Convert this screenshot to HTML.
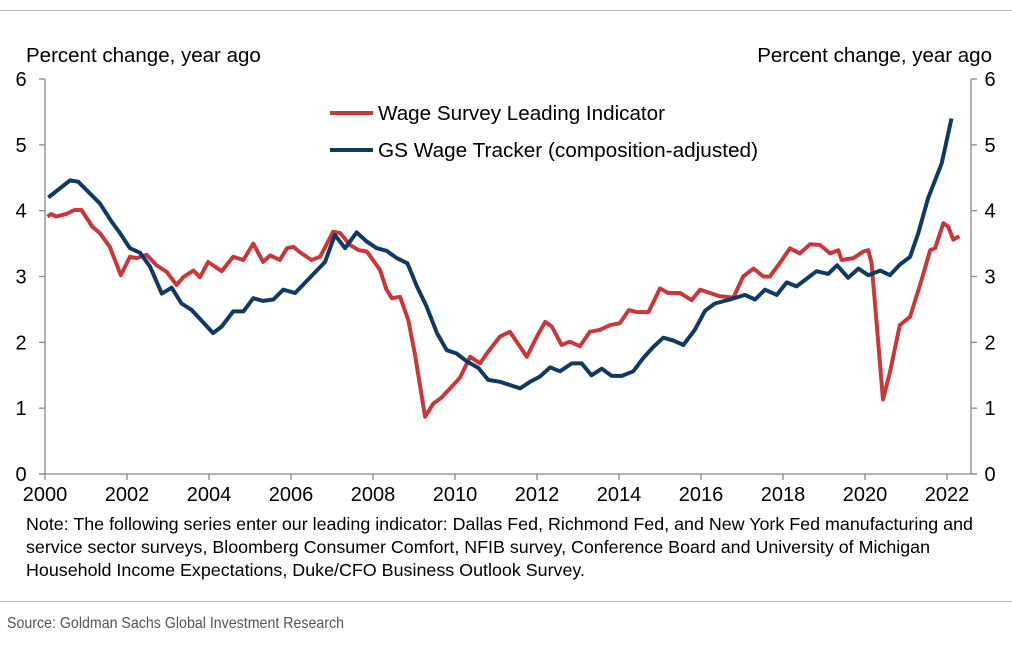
<!DOCTYPE html>
<html><head><meta charset="utf-8"><style>
body{margin:0;background:#fff;}
svg{display:block;font-family:"Liberation Sans",Arial,sans-serif;}
</style></head><body>
<svg id="chart" width="1012" height="645" viewBox="0 0 1012 645" xmlns="http://www.w3.org/2000/svg">
<line x1="0" y1="10.5" x2="1012" y2="10.5" stroke="#bbb"/>
<text x="26" y="62" font-size="20.5" fill="#000">Percent change, year ago</text>
<text x="992" y="62" font-size="20.5" fill="#000" text-anchor="end">Percent change, year ago</text>
<g id="axes"></g>
<g id="series"></g>
<g>
<line x1="330" y1="113" x2="373" y2="113" stroke="#c8383a" stroke-width="4"/>
<text x="378" y="120" font-size="20" textLength="287" lengthAdjust="spacingAndGlyphs">Wage Survey Leading Indicator</text>
<line x1="330" y1="150" x2="373" y2="150" stroke="#0e3a64" stroke-width="4"/>
<text x="378" y="157" font-size="20" textLength="380" lengthAdjust="spacingAndGlyphs">GS Wage Tracker (composition-adjusted)</text>
</g>
<g font-size="17.5" fill="#000">
<text x="26" y="530" textLength="947" lengthAdjust="spacingAndGlyphs">Note: The following series enter our leading indicator: Dallas Fed, Richmond Fed, and New York Fed manufacturing and</text>
<text x="26" y="553" textLength="904" lengthAdjust="spacingAndGlyphs">service sector surveys, Bloomberg Consumer Comfort, NFIB survey, Conference Board and University of Michigan</text>
<text x="26" y="576" textLength="559" lengthAdjust="spacingAndGlyphs">Household Income Expectations, Duke/CFO Business Outlook Survey.</text>
</g>
<line x1="0" y1="601.5" x2="1012" y2="601.5" stroke="#bbb"/>
<text x="7" y="628" font-size="16" fill="#555" textLength="337" lengthAdjust="spacingAndGlyphs">Source: Goldman Sachs Global Investment Research</text>
</svg>
<script>
const yTicks=[0,1,2,3,4,5,6];
const xTicks=[2000,2002,2004,2006,2008,2010,2012,2014,2016,2018,2020,2022];
const wageYears=[2000.06,2000.15,2000.27,2000.52,2000.72,2000.89,2001.15,2001.34,2001.58,2001.85,2002.07,2002.24,2002.48,2002.72,2002.97,2003.21,2003.37,2003.62,2003.78,2003.98,2004.31,2004.59,2004.84,2005.08,2005.32,2005.49,2005.73,2005.9,2006.06,2006.26,2006.5,2006.71,2007.03,2007.2,2007.44,2007.65,2007.85,2008.0,2008.17,2008.33,2008.46,2008.66,2008.86,2009.02,2009.27,2009.47,2009.67,2009.88,2010.12,2010.37,2010.61,2010.81,2011.1,2011.34,2011.75,2012.0,2012.2,2012.36,2012.6,2012.8,2013.05,2013.29,2013.54,2013.78,2014.02,2014.24,2014.43,2014.72,2015.0,2015.2,2015.49,2015.77,2015.98,2016.22,2016.46,2016.79,2017.03,2017.28,2017.52,2017.68,2017.93,2018.17,2018.41,2018.66,2018.9,2019.15,2019.35,2019.43,2019.72,2019.96,2020.08,2020.16,2020.29,2020.44,2020.61,2020.85,2021.1,2021.38,2021.59,2021.71,2021.91,2022.03,2022.15,2022.3];
const wageValues=[3.91,3.95,3.91,3.95,4.01,4.01,3.76,3.66,3.45,3.02,3.30,3.28,3.33,3.17,3.07,2.87,2.99,3.09,2.99,3.22,3.08,3.30,3.25,3.50,3.22,3.32,3.25,3.43,3.45,3.35,3.25,3.30,3.68,3.66,3.48,3.40,3.38,3.25,3.10,2.80,2.67,2.69,2.34,1.83,0.87,1.07,1.16,1.30,1.46,1.78,1.68,1.86,2.09,2.16,1.78,2.09,2.31,2.24,1.96,2.01,1.94,2.16,2.19,2.26,2.29,2.49,2.46,2.46,2.82,2.75,2.75,2.64,2.80,2.75,2.70,2.68,3.00,3.12,3.00,3.00,3.21,3.43,3.35,3.49,3.48,3.35,3.40,3.25,3.28,3.38,3.40,3.20,2.24,1.13,1.55,2.26,2.39,2.95,3.40,3.43,3.81,3.76,3.56,3.61];
const gsYears=[2000.08,2000.61,2000.81,2001.34,2001.63,2001.83,2002.07,2002.32,2002.56,2002.85,2003.09,2003.33,2003.58,2004.1,2004.31,2004.59,2004.84,2005.08,2005.32,2005.57,2005.81,2006.1,2006.83,2007.07,2007.32,2007.6,2007.85,2008.09,2008.33,2008.58,2008.84,2009.07,2009.31,2009.56,2009.8,2010.04,2010.29,2010.57,2010.81,2011.1,2011.59,2011.83,2012.07,2012.32,2012.56,2012.85,2013.09,2013.33,2013.58,2013.82,2014.07,2014.35,2014.59,2014.84,2015.08,2015.32,2015.57,2015.85,2016.1,2016.34,2016.71,2017.07,2017.32,2017.56,2017.85,2018.09,2018.33,2018.82,2019.1,2019.32,2019.59,2019.84,2020.08,2020.37,2020.61,2020.85,2021.1,2021.3,2021.54,2021.87,2022.11];
const gsValues=[4.2,4.46,4.44,4.11,3.83,3.66,3.43,3.36,3.15,2.74,2.83,2.59,2.49,2.14,2.24,2.47,2.47,2.67,2.63,2.65,2.80,2.75,3.22,3.63,3.43,3.67,3.53,3.43,3.39,3.28,3.20,2.85,2.54,2.14,1.88,1.83,1.71,1.61,1.43,1.40,1.30,1.40,1.48,1.62,1.56,1.68,1.68,1.50,1.60,1.49,1.49,1.56,1.76,1.93,2.07,2.03,1.96,2.19,2.48,2.59,2.65,2.72,2.65,2.80,2.72,2.91,2.85,3.08,3.04,3.17,2.98,3.12,3.02,3.09,3.02,3.18,3.30,3.66,4.19,4.72,5.40];

const NS='http://www.w3.org/2000/svg';
const X0=45,X1=971,Y0=474,Y1=79;
function xs(yr){return X0+(yr-2000)*41;}
function ys(v){return Y0-(v/6)*(Y0-Y1);}
const axes=document.getElementById('axes');
function mk(tag,attrs,parent){const e=document.createElementNS(NS,tag);for(const k in attrs)e.setAttribute(k,attrs[k]);parent.appendChild(e);return e;}
let l=mk('line',{x1:X0,y1:Y1,x2:X0,y2:Y0,stroke:'#888','stroke-width':1.3},axes);


l=mk('line',{x1:X1,y1:Y1,x2:X1,y2:Y0,stroke:'#888','stroke-width':1.3},axes);


l=mk('line',{x1:X0-6,y1:Y0,x2:X1+6,y2:Y0,stroke:'#888','stroke-width':1.3},axes);


yTicks.forEach(v=>{
 const y=ys(v);
 let t=mk('line',{x1:X0-6,y1:y,x2:X0,y2:y,stroke:'#888','stroke-width':1.3},axes);
 
 
 t=mk('line',{x1:X1,y1:y,x2:X1+6,y2:y,stroke:'#888','stroke-width':1.3},axes);
 
 
 let tx=mk('text',{x:21,y:y+7,'font-size':20,'text-anchor':'middle'},axes);tx.textContent=v;
 
 
 tx=mk('text',{x:990,y:y+7,'font-size':20,'text-anchor':'middle'},axes);tx.textContent=v;
 
 
});
xTicks.forEach(yr=>{
 const x=xs(yr);
 const t=mk('line',{x1:x,y1:Y0,x2:x,y2:Y0+6,stroke:'#888','stroke-width':1.3},axes);
 
 
 const tx=mk('text',{x:x,y:Y0+27,'font-size':20,'text-anchor':'middle'},axes);tx.textContent=yr;
 
 
});
const series=document.getElementById('series');
function line(years,vals,color){return mk('polyline',{points:years.map((y,i)=>xs(y).toFixed(1)+','+ys(vals[i]).toFixed(1)).join(' '),fill:'none',stroke:color,'stroke-width':4,'stroke-linejoin':'round'},series);}
const w=line(wageYears,wageValues,'#c8383a');


const g=line(gsYears,gsValues,'#0e3a64');


</script>
</body></html>
